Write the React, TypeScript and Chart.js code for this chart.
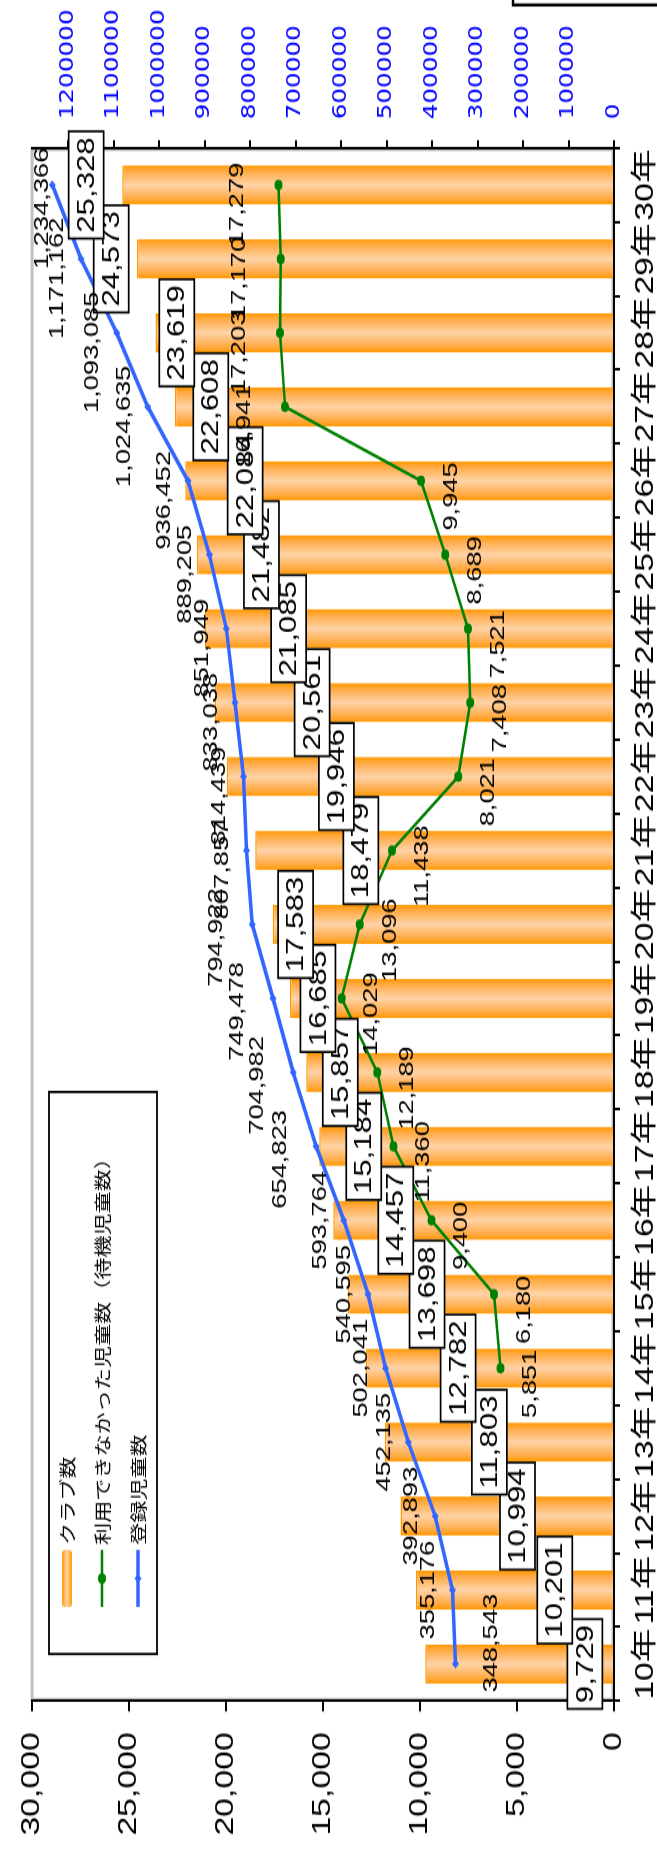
import { useEffect, useRef } from 'react';
import { Chart, registerables } from 'chart.js';

Chart.register(...registerables);

const categories = ['10年', '11年', '12年', '13年', '14年', '15年', '16年', '17年', '18年', '19年', '20年', '21年', '22年', '23年', '24年', '25年', '26年', '27年', '28年', '29年', '30年'];
const clubCounts = [9729, 10201, 10994, 11803, 12782, 13698, 14457, 15184, 15857, 16685, 17583, 18479, 19946, 20561, 21085, 21482, 22084, 22608, 23619, 24573, 25328];
const waitingChildren = [null, null, null, null, 5851, 6180, 9400, 11360, 12189, 14029, 13096, 11438, 8021, 7408, 7521, 8689, 9945, 16941, 17203, 17170, 17279];
const registeredChildren = [348543, 355176, 392893, 452135, 502041, 540595, 593764, 654823, 704982, 749478, 794922, 807857, 814439, 833038, 851949, 889205, 936452, 1024635, 1093085, 1171162, 1234366];
const legendLabels = ['クラブ数', '利用できなかった児童数（待機児童数）', '登録児童数'];
const clubAxis = { min: 0, max: 30000, step: 5000 };
const childAxis = { min: 0, max: 1280000, step: 100000, lastTick: 1200000 };
// where each boxed club-count label sits, in club-axis units
const clubLabelAt = [1500, 3050, 4970, 6420, 8030, 9630, 11240, 12890, 14100, 15250, 16400, 13040, 14300, 15550, 16760, 18160, 19000, 20770, 22520, 25900, 27190];

const CANVAS_W = 1426;
const CANVAS_H = 657;
const PAGE_W = 657;
const PAGE_H = 1854;
const STRETCH = PAGE_H / CANVAS_W;

export default function App() {
  const canvasRef = useRef<HTMLCanvasElement | null>(null);

  useEffect(() => {
    const canvas = canvasRef.current;
    if (!canvas) return;
    document.body.style.margin = '0';
    const LAT = '"Liberation Sans", Arial, "Noto Sans CJK JP", sans-serif';
    const JP = '"Noto Sans CJK JP", "Liberation Sans", sans-serif';
    const fmt = (v: number) => Number(v).toLocaleString('en-US');
    const BAR_FRAC = 0.53;
    const plotLeft = (PAGE_H - 1701) / STRETCH;
    const plotRight = (PAGE_H - 148) / STRETCH;

    const barFill = (c: any) => {
      const chart = c.chart;
      const area = chart.chartArea;
      if (!area || c.dataIndex === undefined) return '#ff9900';
      const cx = chart.scales.x.getPixelForValue(c.dataIndex);
      const half = ((area.right - area.left) / categories.length) * BAR_FRAC / 2;
      const g = chart.ctx.createLinearGradient(cx - half, 0, cx + half, 0);
      g.addColorStop(0, '#ff9900');
      g.addColorStop(0.15, '#ffaa44');
      g.addColorStop(0.5, '#ffd3a8');
      g.addColorStop(0.85, '#ffaa44');
      g.addColorStop(1, '#ff9900');
      return g;
    };

    const decor = {
      id: 'decor',
      beforeDraw(chart: any) {
        const { ctx, chartArea: a } = chart;
        ctx.save();
        ctx.fillStyle = '#ffffff';
        ctx.fillRect(0, 0, chart.width, chart.height);
        ctx.strokeStyle = '#c0c0c0';
        ctx.lineWidth = 3;
        ctx.strokeRect(a.left + 1, a.top + 0.5, a.right - a.left - 2, a.bottom - a.top - 1.5);
        ctx.strokeStyle = '#000000';
        ctx.lineWidth = 2.4;
        ctx.strokeRect((PAGE_H - 5) / STRETCH, 513, 60, 300);
        ctx.restore();
      },
      afterDatasetsDraw(chart: any) {
        const { ctx } = chart;
        const xs = chart.scales.x;
        const ys = chart.scales.y;
        ctx.save();
        ctx.font = `24px ${LAT}`;
        ctx.textAlign = 'center';
        ctx.textBaseline = 'middle';
        clubCounts.forEach((v, i) => {
          const cx = xs.getPixelForValue(i);
          const cy = ys.getPixelForValue(clubLabelAt[i]);
          const t = fmt(v);
          const w = ctx.measureText(t).width + 9;
          const h = 35;
          ctx.fillStyle = '#ffffff';
          ctx.fillRect(cx - w / 2, cy - h / 2, w, h);
          ctx.strokeStyle = '#000000';
          ctx.lineWidth = 1.7;
          ctx.strokeRect(cx - w / 2, cy - h / 2, w, h);
          ctx.fillStyle = '#000000';
          ctx.fillText(t, cx, cy + 1);
        });
        ctx.font = `21px ${LAT}`;
        const gm = chart.getDatasetMeta(1);
        waitingChildren.forEach((v, i) => {
          if (v === null) return;
          const el = gm.data[i];
          if (!el) return;
          const above = i >= 17;
          const dx = above ? -15 : -12;
          const dy = above ? -41 : 30;
          ctx.fillText(fmt(v), el.x + dx, el.y + dy);
        });
        const bm = chart.getDatasetMeta(2);
        registeredChildren.forEach((v, i) => {
          const el = bm.data[i];
          if (!el) return;
          let dx = i < 7 ? 0 : -15;
          let dy = -24;
          if (i >= 7 && i <= 10) { dx = -10; dy = -36; }
          if (i === 0) { dx = 16; dy = 36; }
          if (i === registeredChildren.length - 1) { dx = -18; dy = -10; }
          ctx.fillText(fmt(v), el.x + dx, el.y + dy);
        });
        ctx.restore();
      },
      afterDraw(chart: any) {
        const { ctx } = chart;
        ctx.save();
        const L = (PAGE_H - 1654) / STRETCH;
        const R = (PAGE_H - 1092) / STRETCH;
        const T = 49;
        const B = 157;
        ctx.fillStyle = '#ffffff';
        ctx.fillRect(L, T, R - L, B - T);
        ctx.strokeStyle = '#000000';
        ctx.lineWidth = 1.8;
        ctx.strokeRect(L, T, R - L, B - T);
        const rows = [67, 102, 138];
        const x0 = (PAGE_H - 1607) / STRETCH;
        const x1 = (PAGE_H - 1550) / STRETCH;
        const xm = (x0 + x1) / 2;
        const g = ctx.createLinearGradient(0, rows[0] - 5, 0, rows[0] + 5);
        g.addColorStop(0, '#ff9900');
        g.addColorStop(0.5, '#ffd3a8');
        g.addColorStop(1, '#ff9900');
        ctx.fillStyle = g;
        ctx.beginPath();
        ctx.roundRect(x0, rows[0] - 5, x1 - x0, 10, 3);
        ctx.fill();
        ctx.strokeStyle = '#008000';
        ctx.lineWidth = 2.5;
        ctx.beginPath();
        ctx.moveTo(x0, rows[1]);
        ctx.lineTo(x1, rows[1]);
        ctx.stroke();
        ctx.fillStyle = '#008000';
        ctx.beginPath();
        ctx.arc(xm, rows[1], 4, 0, Math.PI * 2);
        ctx.fill();
        ctx.strokeStyle = '#3366ff';
        ctx.lineWidth = 3.5;
        ctx.beginPath();
        ctx.moveTo(x0, rows[2]);
        ctx.lineTo(x1, rows[2]);
        ctx.stroke();
        ctx.fillStyle = '#3366ff';
        ctx.beginPath();
        ctx.moveTo(xm, rows[2] - 3.5);
        ctx.lineTo(xm + 3.5, rows[2]);
        ctx.lineTo(xm, rows[2] + 3.5);
        ctx.lineTo(xm - 3.5, rows[2]);
        ctx.closePath();
        ctx.fill();
        ctx.fillStyle = '#000000';
        ctx.font = `17px ${JP}`;
        ctx.textAlign = 'left';
        ctx.textBaseline = 'middle';
        legendLabels.forEach((t, i) => ctx.fillText(t, x1 + 4, rows[i] + 1));
        ctx.restore();
      },
    };

    const chart = new Chart(canvas, {
      type: 'bar',
      data: {
        labels: categories,
        datasets: [
          {
            type: 'bar',
            label: legendLabels[0],
            data: clubCounts,
            yAxisID: 'y',
            backgroundColor: barFill,
            borderColor: '#ff9900',
            borderWidth: { top: 1.5, left: 0, right: 0, bottom: 0 },
            barPercentage: BAR_FRAC,
            categoryPercentage: 1,
            order: 3,
          } as any,
          {
            type: 'line',
            label: legendLabels[1],
            data: waitingChildren,
            yAxisID: 'y',
            borderColor: '#008000',
            backgroundColor: '#008000',
            borderWidth: 2.5,
            pointRadius: 4,
            pointBorderWidth: 0,
            pointBackgroundColor: '#008000',
            tension: 0,
            fill: false,
            order: 2,
          } as any,
          {
            type: 'line',
            label: legendLabels[2],
            data: registeredChildren,
            yAxisID: 'y2',
            borderColor: '#3366ff',
            backgroundColor: '#3366ff',
            borderWidth: 3.5,
            pointStyle: 'rectRot',
            pointRadius: 3.5,
            pointBorderWidth: 0,
            pointBackgroundColor: '#3366ff',
            tension: 0,
            fill: false,
            order: 1,
          } as any,
        ],
      },
      options: {
        responsive: false,
        animation: false,
        devicePixelRatio: 1,
        layout: { padding: { top: 16, left: 0, right: 0, bottom: 0 } },
        plugins: { legend: { display: false }, tooltip: { enabled: false } },
        scales: {
          x: {
            type: 'category',
            offset: true,
            grid: { offset: true, drawOnChartArea: false, drawTicks: true, tickLength: 6, color: '#000000', lineWidth: 2 },
            border: { display: true, color: '#000000', width: 2 },
            ticks: { color: '#000000', font: { family: LAT, size: 26 }, padding: 10, maxRotation: 0, autoSkip: false },
            afterFit: (s: any) => { s.height = CANVAS_H - 614; },
          },
          y: {
            position: 'left',
            min: clubAxis.min,
            max: clubAxis.max,
            grid: { drawOnChartArea: false, drawTicks: true, tickLength: 8, color: '#000000', lineWidth: 2 },
            border: { display: true, color: '#000000', width: 2 },
            ticks: { stepSize: clubAxis.step, maxTicksLimit: 20, autoSkip: false, callback: (v: any) => fmt(v), color: '#000000', font: { family: LAT, size: 26 }, padding: 16 },
            afterFit: (s: any) => { s.width = plotLeft; },
          },
          y2: {
            position: 'right',
            min: childAxis.min,
            max: childAxis.max,
            grid: { drawOnChartArea: false, drawTicks: true, tickLength: 6, color: '#000000', lineWidth: 2 },
            border: { display: true, color: '#000000', width: 2 },
            ticks: { autoSkip: false, callback: (v: any) => String(v), color: '#0000ff', font: { family: '"DejaVu Sans", sans-serif', size: 19 }, padding: 16 },
            afterBuildTicks: (s: any) => {
              const t = [];
              for (let v = childAxis.min; v <= childAxis.lastTick; v += childAxis.step) t.push({ value: v });
              s.ticks = t;
            },
            afterFit: (s: any) => { s.width = CANVAS_W - plotRight; },
          },
        },
      } as any,
      plugins: [decor],
    });

    return () => chart.destroy();
  }, []);

  return (
    <div style={{ position: 'absolute', left: 0, top: 0, width: PAGE_W, height: PAGE_H, overflow: 'hidden', background: '#ffffff' }}>
      <div
        style={{
          position: 'absolute',
          left: 0,
          top: 0,
          width: CANVAS_W,
          height: CANVAS_H,
          transformOrigin: '0 0',
          transform: `translateY(${PAGE_H}px) rotate(-90deg) scaleX(${STRETCH})`,
        }}
      >
        <canvas ref={canvasRef} width={CANVAS_W} height={CANVAS_H} style={{ width: CANVAS_W, height: CANVAS_H, display: 'block' }} />
      </div>
    </div>
  );
}
